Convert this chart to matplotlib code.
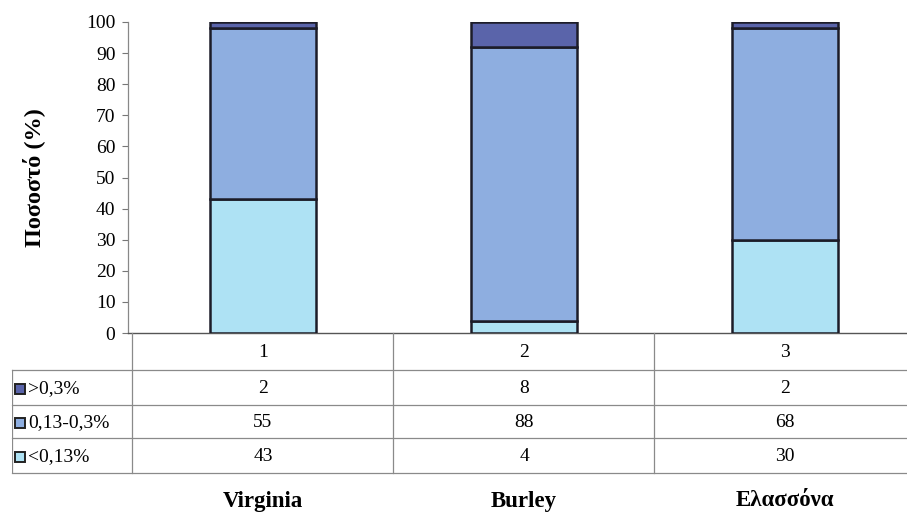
import matplotlib
matplotlib.use("Agg")
import matplotlib.pyplot as plt
from matplotlib.patches import Rectangle
import numpy as np

plt.rcParams['font.family'] = ['Liberation Serif', 'DejaVu Serif']

categories = ['Virginia', 'Burley', 'Ελασσόνα']
col_labels = ['1', '2', '3']
series_names = ['>0,3%', '0,13-0,3%', '<0,13%']
high = [2, 8, 2]
mid = [55, 88, 68]
low = [43, 4, 30]
y_ticks = [0, 10, 20, 30, 40, 50, 60, 70, 80, 90, 100]
y_label = 'Ποσοστό (%)'

colors = {'>0,3%': '#5a64aa', '0,13-0,3%': '#8eaee0', '<0,13%': '#aee2f4'}
edge = '#1c1c28'

W, H = 907, 513
fig = plt.figure(figsize=(W / 100, H / 100), dpi=100)

center0 = 263.0
step = 261.0
def xd(px):
    return (px - center0) / step

FS = 14

# main axes
ax_l, ax_r, ax_t, ax_b = 128, 907, 22, 333
ax = fig.add_axes([ax_l / W, 1 - ax_b / H, (ax_r - ax_l) / W, (ax_b - ax_t) / H])
x = np.arange(len(categories))
bw = 106 / step
ax.bar(x, low, bw, color=colors['<0,13%'], edgecolor=edge, linewidth=1.8, zorder=3)
ax.bar(x, mid, bw, bottom=low, color=colors['0,13-0,3%'], edgecolor=edge, linewidth=1.8, zorder=3)
bottom2 = np.array(low) + np.array(mid)
ax.bar(x, high, bw, bottom=bottom2, color=colors['>0,3%'], edgecolor=edge, linewidth=1.8, zorder=3)
ax.set_xlim(xd(ax_l), xd(ax_r))
ax.set_ylim(0, 100)
ax.set_yticks(y_ticks)
ax.set_yticklabels([str(t) for t in y_ticks], fontsize=FS)
ax.tick_params(axis='y', length=4, width=0.8, color='#777777', pad=5)
ax.set_xticks([])
for s in ['top', 'right']:
    ax.spines[s].set_visible(False)
ax.spines['left'].set_color('#888888')
ax.spines['left'].set_linewidth(0.9)
ax.spines['bottom'].set_color('#555555')
ax.spines['bottom'].set_linewidth(1.0)
ax.set_ylabel(y_label, fontsize=17.5, fontweight='bold')
ax.yaxis.set_label_coords((45 - ax_l) / (ax_r - ax_l), 0.5)
ax.patch.set_alpha(0)

# table axes
t_l, t_r, t_t, t_b = 12, 907, 333, 473
tax = fig.add_axes([t_l / W, 1 - t_b / H, (t_r - t_l) / W, (t_b - t_t) / H])
tax.set_xlim(xd(t_l), xd(t_r))
row_px = [333, 370, 405, 438, 473]
tax.set_ylim(t_b, t_t)
tax.axis('off')
lc = '#8a8a8a'
label_right = xd(132)
bounds = [label_right] + [xd(132 + step * (i + 1)) for i in range(len(categories))]
for yp in row_px[1:]:
    tax.plot([xd(t_l), xd(t_r)], [yp, yp], color=lc, lw=0.9, clip_on=False)
for b in bounds[:-1]:
    tax.plot([b, b], [row_px[0], row_px[-1]], color=lc, lw=0.9, clip_on=False)
tax.plot([xd(t_l), xd(t_l)], [row_px[1], row_px[-1]], color=lc, lw=0.9)

def rowc(i):
    return (row_px[i] + row_px[i + 1]) / 2

for j, lab in enumerate(col_labels):
    tax.text(j, rowc(0) + 1, lab, ha='center', va='center', fontsize=FS)
rows = [high, mid, low]
for i, (name, vals) in enumerate(zip(series_names, rows)):
    yc = rowc(i + 1) + 1
    for j, v in enumerate(vals):
        tax.text(j, yc, str(v), ha='center', va='center', fontsize=FS)
    sq = 10 / step
    tax.add_patch(Rectangle((xd(15), yc - 5), sq, 10, facecolor=colors[name],
                            edgecolor='#222222', lw=1.4))
    tax.text(xd(28), yc, name, ha='left', va='center', fontsize=FS)

for j, c in enumerate(categories):
    tax.text(j, 501, c, ha='center', va='center', fontsize=16.5, fontweight='bold', clip_on=False)

fig.savefig('out.png', dpi=100)
